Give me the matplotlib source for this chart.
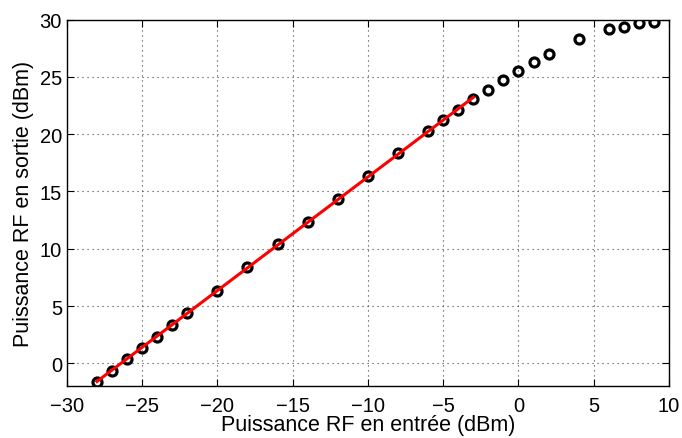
import numpy as np
from matplotlib import pyplot as plt

plt.rcParams['font.family'] = ['Liberation Sans', 'DejaVu Sans']

# input RF power (dBm) and measured output power (dBm)
p_in = [-28, -27, -26, -25, -24, -23, -22, -20, -18, -16, -14, -12, -10,
        -8, -6, -5, -4, -3, -2, -1, 0, 1, 2, 4, 6, 7, 8, 9]
p_out = [-1.6, -0.68, 0.38, 1.37, 2.33, 3.36, 4.39, 6.34, 8.39, 10.4,
         12.37, 14.35, 16.32, 18.39, 20.26, 21.23, 22.1, 23.04, 23.89,
         24.7, 25.53, 26.28, 26.98, 28.27, 29.15, 29.4, 29.67, 29.82]

# linear region used for the fit
lin_min, lin_max = -28, -3

p_in = np.array(p_in, dtype=float)
p_out = np.array(p_out, dtype=float)
sel = (p_in >= lin_min) & (p_in <= lin_max)
a, b = np.polyfit(p_in[sel], p_out[sel], 1)
xfit = np.array([lin_min, lin_max], dtype=float)

fig = plt.figure(figsize=(6.82, 4.39), dpi=100)
ax = fig.add_axes([0.098, 0.118, 0.883, 0.835])

ax.plot(p_in, p_out, 'o', mfc='none', mec='k', mew=2.3, ms=6.5, zorder=3)
ax.plot(xfit, a*xfit + b, '-', color='r', lw=2.2, zorder=4)

ax.set_xlim(-30, 10)
ax.set_ylim(-2, 30)
ax.set_xticks(np.arange(-30, 11, 5))
ax.set_yticks(np.arange(0, 31, 5))
ax.grid(True, linestyle=(0, (1, 3.5)), color='0.25', lw=0.8)
ax.tick_params(direction='in', top=True, right=True, length=5, labelsize=14.5)
ax.tick_params(axis='x', pad=7)
for s in ax.spines.values():
    s.set_linewidth(1)

ax.set_xlabel('Puissance RF en entrée (dBm)', fontsize=15.5, labelpad=-1)
ax.set_ylabel('Puissance RF en sortie (dBm)', fontsize=15.5, labelpad=4)

fig.savefig('out.png', dpi=100)
